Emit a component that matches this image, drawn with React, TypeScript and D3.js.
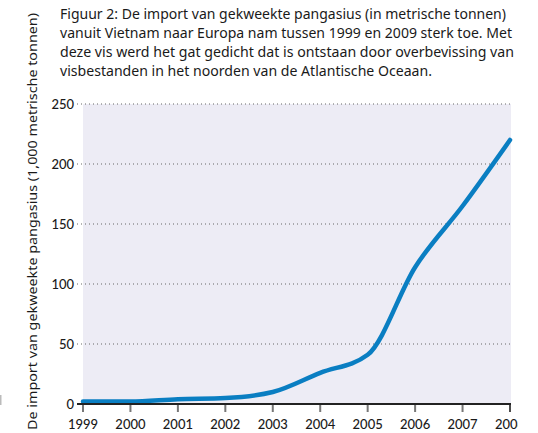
import React from 'react';
import * as d3 from 'd3';

const years = [1999, 2000, 2001, 2002, 2003, 2004, 2005, 2006, 2007, 2008];
const importValues = [2, 2, 4, 5, 10, 26, 41, 114, 165, 220];
const yTicks = [0, 50, 100, 150, 200, 250];
const titleLines = [
  'Figuur 2: De import van gekweekte pangasius (in metrische tonnen)',
  'vanuit Vietnam naar Europa nam tussen 1999 en 2009 sterk toe. Met',
  'deze vis werd het gat gedicht dat  is ontstaan door overbevissing van',
  'visbestanden in het noorden van de Atlantische Oceaan.',
];
const yLabel = 'De import van gekweekte pangasius  (1,000 metrische tonnen)';

export default function App() {
  const width = 538;
  const height = 433;
  const left = 83;
  const right = 511;
  const top = 104;
  const bottom = 404;

  const x = d3.scaleLinear().domain([1999, 2008]).range([left, 510]);
  const y = d3.scaleLinear().domain([0, 250]).range([bottom, top]);

  const data = years.map((yr, i) => ({ yr, v: importValues[i] }));
  const line = d3
    .line<{ yr: number; v: number }>()
    .curve(d3.curveMonotoneX)
    .x((d) => x(d.yr))
    .y((d) => y(d.v));

  const titleWidths = [446, 452, 454, 372];
  const font = "'Noto Sans', sans-serif";
  const tickFont = "Lato, 'Noto Sans', sans-serif";

  return (
    <svg
      width={width}
      height={height}
      style={{ position: 'absolute', left: 0, top: 0, background: '#fff' }}
    >
      <defs>
        <clipPath id="cut">
          <rect x={0} y={0} width={518} height={height} />
        </clipPath>
      </defs>

      {/* leftover at the edge of the crop */}
      <rect x={0} y={395} width={1.5} height={10} fill="#bbb" />

      <g fontFamily={font} fontSize={14} fill="#1a1a1a">
        {titleLines.map((t, i) => (
          <text
            key={i}
            x={60}
            y={19 + i * 19}
            textLength={titleWidths[i]}
            lengthAdjust="spacingAndGlyphs"
          >
            {t}
          </text>
        ))}
      </g>

      <text
        transform={`translate(37,430) rotate(-90)`}
        fontFamily={font}
        fontSize={13}
        fill="#1a1a1a"
        textLength={417}
        lengthAdjust="spacingAndGlyphs"
      >
        {yLabel}
      </text>

      <rect x={left} y={top} width={right - left} height={bottom - top} fill="#edecf5" />

      {yTicks.map((t) =>
        t === 0 ? null : (
          <line
            key={t}
            x1={77}
            x2={right}
            y1={y(t)}
            y2={y(t)}
            stroke="#666"
            strokeWidth={1}
            strokeDasharray="1,3"
          />
        )
      )}

      <g fontFamily={tickFont} fontSize={13} fontWeight={500} fill="#1a1a1a">
        {yTicks.map((t) => (
          <text key={t} x={74} y={y(t)} dy="0.35em" textAnchor="end">
            {t}
          </text>
        ))}
      </g>

      {years.map((yr, i) => (
        <line
          key={yr}
          x1={x(yr)}
          x2={x(yr)}
          y1={bottom}
          y2={bottom + 8}
          stroke={i === years.length - 1 ? '#111' : '#777'}
          strokeWidth={i === years.length - 1 ? 1.5 : 2}
        />
      ))}
      <g fontFamily={tickFont} fontSize={13} fontWeight={500} fill="#1a1a1a" clipPath="url(#cut)">
        {years.map((yr) => (
          <text key={yr} x={x(yr)} y={429} textAnchor="middle">
            {yr}
          </text>
        ))}
      </g>

      <path
        d={line(data) ?? ''}
        fill="none"
        stroke="#0a7ec2"
        strokeWidth={4.5}
        strokeLinecap="round"
        strokeLinejoin="round"
      />

      <line x1={77} x2={right} y1={bottom} y2={bottom} stroke="#222" strokeWidth={2} />
    </svg>
  );
}
